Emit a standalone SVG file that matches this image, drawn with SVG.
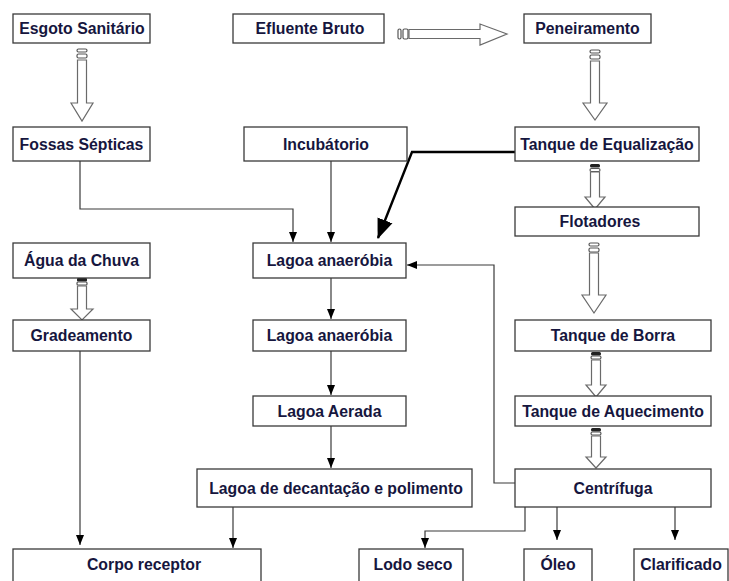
<svg xmlns="http://www.w3.org/2000/svg" width="729" height="581" viewBox="0 0 729 581">
<style>
.box{fill:#fff;stroke:#3a3a3a;stroke-width:1.3}
.t{font-family:"Liberation Sans",Arial,sans-serif;font-weight:bold;font-size:15.8px;fill:#16163e;text-anchor:middle}
.ln{fill:none;stroke:#3a3a3a;stroke-width:1.2}
.blk{fill:#fff;stroke:#6a6a6a;stroke-width:1.2}
.stp{fill:#fff;stroke:#555;stroke-width:1.2}
</style>
<defs>
<marker id="ah" markerUnits="userSpaceOnUse" markerWidth="10" markerHeight="10" viewBox="0 0 10 10" refX="10" refY="5" orient="auto">
<path d="M0,1 L10,5 L0,9 Z" fill="#000"/>
</marker>
<marker id="ahb" markerUnits="userSpaceOnUse" markerWidth="20" markerHeight="20" viewBox="0 0 20 20" refX="19" refY="10" orient="auto">
<path d="M0,2 L20,10 L0,18 Z" fill="#000"/>
</marker>
</defs>

<g id="connectors">
<path class="ln" d="M80,161 V209 H293 V242" marker-end="url(#ah)"/>
<path class="ln" d="M331,161 V242" marker-end="url(#ah)"/>
<path class="ln" d="M331,278 V319" marker-end="url(#ah)"/>
<path class="ln" d="M331,351 V395" marker-end="url(#ah)"/>
<path class="ln" d="M331,426 V468" marker-end="url(#ah)"/>
<path class="ln" d="M233,507 V548" marker-end="url(#ah)"/>
<path class="ln" d="M80,351 V545" marker-end="url(#ah)"/>
<path class="ln" d="M515,483 H494 V265 H407" marker-end="url(#ah)"/>
<path class="ln" d="M525,507 V531 H425 V548" marker-end="url(#ah)"/>
<path class="ln" d="M557,507 V540" marker-end="url(#ah)"/>
<path class="ln" d="M675,507 V540" marker-end="url(#ah)"/>
<path fill="none" stroke="#000" stroke-width="2.4" d="M515,152 H412 L378,238" marker-end="url(#ahb)"/>

<g id="ba1">
<rect class="stp" x="77" y="49" width="10" height="3" rx="1.5"/>
<rect class="stp" x="77" y="54" width="10" height="4" rx="1.5"/>
<path class="blk" d="M77.5,60 H86.5 V103 H93 L82,121 L71,103 H77.5 Z"/>
</g>
<g id="ba2">
<rect class="stp" x="590" y="50" width="10" height="3" rx="1.5"/>
<rect class="stp" x="590" y="55" width="10" height="4" rx="1.5"/>
<path class="blk" d="M590.5,61 H599.5 V103 H607 L595,120 L583,103 H590.5 Z"/>
</g>
<g id="ba3">
<rect x="590" y="164" width="10" height="3.5" rx="1.5" fill="#222"/>
<rect class="stp" x="590" y="168.5" width="10" height="3" rx="1.5"/>
<path class="blk" d="M590.5,172 H599.5 V197 H605 L595,209 L585,197 H590.5 Z"/>
</g>
<g id="ba4">
<rect class="stp" x="589" y="243" width="10" height="3" rx="1.5"/>
<rect class="stp" x="589" y="248" width="10" height="4" rx="1.5"/>
<path class="blk" d="M589.5,253 H598.5 V295 H606 L594,313 L582,295 H589.5 Z"/>
</g>
<g id="ba5">
<rect x="591" y="352" width="10" height="3.5" rx="1.5" fill="#222"/>
<rect class="stp" x="591" y="356" width="10" height="3" rx="1.5"/>
<path class="blk" d="M591.5,360 H600.5 V385 H606 L596,397 L586,385 H591.5 Z"/>
</g>
<g id="ba6">
<rect x="591" y="428" width="10" height="3.5" rx="1.5" fill="#222"/>
<rect class="stp" x="591" y="432" width="10" height="3" rx="1.5"/>
<path class="blk" d="M591.5,436 H600.5 V457 H606 L596,468 L586,457 H591.5 Z"/>
</g>
<g id="ba7">
<rect x="77" y="278" width="10" height="3.5" rx="1" fill="#222"/>
<rect class="stp" x="77" y="282" width="10" height="3" rx="1"/>
<path class="blk" d="M77.5,286 H86.5 V309 H93 L82,320 L71,309 H77.5 Z"/>
</g>
<g id="ba8">
<rect class="stp" x="398" y="29" width="3" height="10" rx="1.5"/>
<rect class="stp" x="403" y="29" width="5" height="10" rx="1.5"/>
<path class="blk" d="M409,29.5 H480 V24 L507,34 L480,45 V38.5 H409 Z"/>
</g>
</g>

<g id="n-esgoto"><rect class="box" x="13" y="14" width="137" height="29"/><text class="t" x="82" y="34">Esgoto Sanitário</text></g>
<g id="n-efluente"><rect class="box" x="233" y="14" width="151" height="29"/><text class="t" x="310" y="34">Efluente Bruto</text></g>
<g id="n-peneiramento"><rect class="box" x="524" y="14" width="127" height="29"/><text class="t" x="587.5" y="34">Peneiramento</text></g>
<g id="n-fossas"><rect class="box" x="13" y="127" width="137" height="34"/><text class="t" x="81.5" y="149.5">Fossas Sépticas</text></g>
<g id="n-incubatorio"><rect class="box" x="244" y="127" width="163" height="34"/><text class="t" x="326" y="149.5">Incubátorio</text></g>
<g id="n-equalizacao"><rect class="box" x="515" y="127" width="184" height="34"/><text class="t" x="607" y="149.5">Tanque de Equalização</text></g>
<g id="n-flotadores"><rect class="box" x="515" y="207" width="184" height="29"/><text class="t" x="600" y="227">Flotadores</text></g>
<g id="n-agua"><rect class="box" x="13" y="243" width="137" height="35"/><text class="t" x="81.5" y="266">Água da Chuva</text></g>
<g id="n-lagoa1"><rect class="box" x="253" y="243" width="153" height="35"/><text class="t" x="329.5" y="266">Lagoa anaeróbia</text></g>
<g id="n-gradeamento"><rect class="box" x="13" y="320" width="137" height="31"/><text class="t" x="81.5" y="341">Gradeamento</text></g>
<g id="n-lagoa2"><rect class="box" x="253" y="320" width="153" height="31"/><text class="t" x="329.5" y="341">Lagoa anaeróbia</text></g>
<g id="n-borra"><rect class="box" x="515" y="320" width="196" height="31"/><text class="t" x="613" y="341">Tanque de Borra</text></g>
<g id="n-aerada"><rect class="box" x="253" y="396" width="153" height="30"/><text class="t" x="329.5" y="416.5">Lagoa Aerada</text></g>
<g id="n-aquecimento"><rect class="box" x="515" y="396" width="196" height="30"/><text class="t" x="613" y="416.5">Tanque de Aquecimento</text></g>
<g id="n-decantacao"><rect class="box" x="197" y="469" width="275" height="38"/><text class="t" x="336" y="493.5">Lagoa de decantação e polimento</text></g>
<g id="n-centrifuga"><rect class="box" x="515" y="469" width="196" height="38"/><text class="t" x="613" y="493.5">Centrífuga</text></g>
<g id="n-corpo"><rect class="box" x="13" y="549" width="248" height="40"/><text class="t" x="144" y="570">Corpo receptor</text></g>
<g id="n-lodo"><rect class="box" x="359" y="549" width="104" height="40"/><text class="t" x="413" y="570">Lodo seco</text></g>
<g id="n-oleo"><rect class="box" x="524" y="549" width="68" height="40"/><text class="t" x="558" y="570">Óleo</text></g>
<g id="n-clarificado"><rect class="box" x="634" y="549" width="94" height="40"/><text class="t" x="681" y="570">Clarificado</text></g>
</svg>
